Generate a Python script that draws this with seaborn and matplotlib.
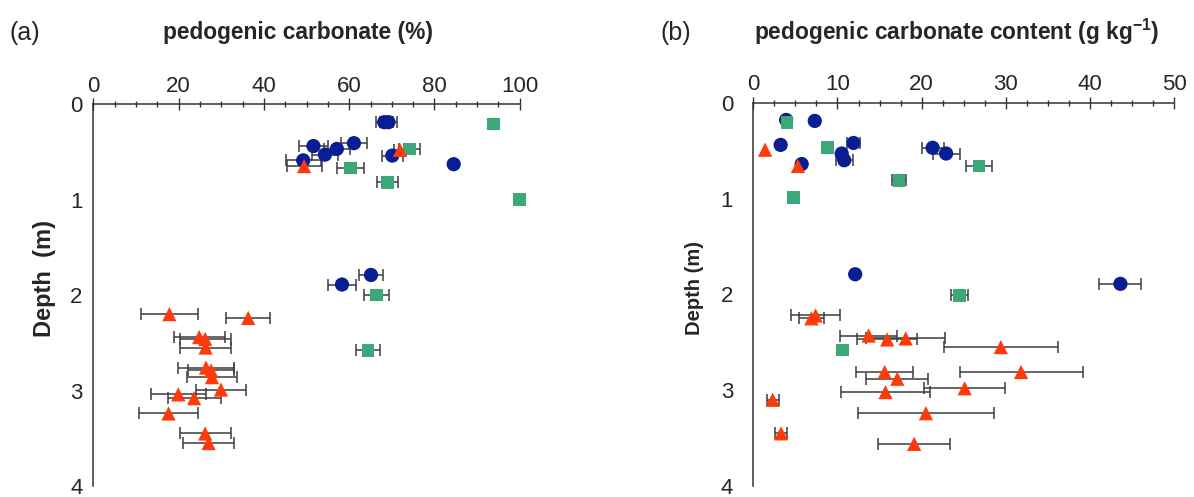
import numpy as np
import pandas as pd
import matplotlib
matplotlib.use("Agg")
import matplotlib.pyplot as plt
from matplotlib.ticker import MultipleLocator
import seaborn as sns

# ---------------- Panel (a): pedogenic carbonate (%) ----------------
a_blue_x = [68.2, 69.2, 51.6, 54.3, 57.1, 61.1, 49.2, 70.1, 84.5, 65.1, 58.3]
a_blue_depth = [0.19, 0.19, 0.44, 0.53, 0.47, 0.41, 0.59, 0.54, 0.63, 1.79, 1.89]
a_blue_err = [2.0, 2.0, 3.4, 3.0, 3.0, 3.1, 4.1, 2.5, 0.0, 2.8, 3.4]

a_green_x = [93.8, 74.1, 60.3, 69.0, 100.0, 66.4, 64.4]
a_green_depth = [0.21, 0.47, 0.67, 0.82, 1.00, 2.00, 2.58]
a_green_err = [0.0, 2.5, 3.1, 2.4, 0.0, 2.9, 2.8]

a_red_x = [71.9, 49.4, 17.8, 36.3, 24.8, 26.2, 26.3, 26.4, 27.6, 27.8, 29.9,
           19.9, 23.6, 17.6, 26.2, 27.0]
a_red_depth = [0.48, 0.65, 2.20, 2.24, 2.44, 2.46, 2.55, 2.76, 2.79, 2.86, 2.99,
               3.04, 3.08, 3.24, 3.45, 3.55]
a_red_err = [1.5, 4.1, 6.7, 5.2, 6.0, 6.0, 6.0, 6.5, 5.4, 5.9, 5.9,
             6.5, 6.2, 6.9, 6.0, 6.0]

# ---------------- Panel (b): pedogenic carbonate content (g/kg) ----------------
b_blue_x = [3.9, 7.3, 3.25, 11.9, 10.5, 10.8, 5.75, 21.3, 22.9, 12.1, 43.6]
b_blue_depth = [0.18, 0.19, 0.44, 0.42, 0.53, 0.60, 0.64, 0.47, 0.53, 1.79, 1.89]
b_blue_err = [0.0, 0.0, 0.0, 0.8, 0.0, 1.0, 0.3, 1.3, 1.6, 0.3, 2.5]

b_green_x = [4.0, 8.8, 26.8, 17.3, 4.75, 24.5, 10.6]
b_green_depth = [0.21, 0.47, 0.66, 0.81, 0.99, 2.01, 2.58]
b_green_err = [0.0, 0.5, 1.5, 0.8, 0.0, 1.0, 0.0]

b_red_x = [1.4, 5.3, 6.9, 7.4, 13.7, 15.9, 18.1, 29.4, 31.8, 15.6, 17.1,
           25.1, 15.7, 2.3, 20.5, 3.3, 19.1]
b_red_depth = [0.49, 0.66, 2.25, 2.22, 2.43, 2.47, 2.46, 2.55, 2.81, 2.81, 2.88,
               2.98, 3.02, 3.10, 3.24, 3.45, 3.56]
b_red_err = [0.0, 0.0, 1.5, 2.9, 3.4, 3.6, 4.7, 6.8, 7.3, 3.4, 3.7,
             4.85, 5.3, 0.7, 8.1, 0.7, 4.25]

BLUE = "#0a1e94"
GREEN = "#3ca878"
RED = "#ff3a0a"
ECOL = "#3c3c3c"

sns.set_style("white")
plt.rcParams["font.family"] = ["Liberation Sans", "DejaVu Sans"]
plt.rcParams["mathtext.fontset"] = "custom"
plt.rcParams["mathtext.rm"] = "Liberation Sans"
plt.rcParams["mathtext.bf"] = "Liberation Sans:bold"

fig = plt.figure(figsize=(11.94, 4.97), dpi=100)
ax1 = fig.add_axes([0.0783, 0.0221, 0.357, 0.7686])
ax2 = fig.add_axes([0.6309, 0.0221, 0.3526, 0.7712])


def build(bx, bd, gx, gd, rx, rd):
    return pd.DataFrame({
        "x": list(bx) + list(gx) + list(rx),
        "depth": list(bd) + list(gd) + list(rd),
        "group": ["blue"] * len(bx) + ["green"] * len(gx) + ["red"] * len(rx),
    })


def draw(ax, bx, bd, be, gx, gd, ge, rx, rd, re_):
    for xs, ds, es in [(bx, bd, be), (gx, gd, ge), (rx, rd, re_)]:
        xs = np.asarray(xs); ds = np.asarray(ds); es = np.asarray(es)
        m = es > 0
        ax.errorbar(xs[m], ds[m], xerr=es[m], fmt="none", ecolor=ECOL,
                    elinewidth=1.1, capsize=4.5, capthick=1.1, zorder=1)
    df = build(bx, bd, gx, gd, rx, rd)
    sns.scatterplot(data=df, x="x", y="depth", hue="group", style="group",
                    size="group",
                    palette={"blue": BLUE, "green": GREEN, "red": RED},
                    markers={"blue": "o", "green": "s", "red": "^"},
                    sizes={"blue": 105, "green": 85, "red": 105},
                    linewidth=0, legend=False, ax=ax, zorder=3, clip_on=False)


def style(ax, xmax, xmajor, xminor, ypad):
    ax.set_xlim(0, xmax)
    ax.set_ylim(4, 0)
    ax.xaxis.tick_top()
    ax.xaxis.set_label_position("top")
    for s in ["right", "bottom"]:
        ax.spines[s].set_visible(False)
    for s in ["top", "left"]:
        ax.spines[s].set_linewidth(1.1)
        ax.spines[s].set_color("#333333")
    ax.xaxis.set_major_locator(MultipleLocator(xmajor))
    ax.xaxis.set_minor_locator(MultipleLocator(xminor))
    ax.yaxis.set_major_locator(MultipleLocator(1))
    ax.yaxis.set_minor_locator(MultipleLocator(0.25))
    ax.tick_params(axis="x", which="major", direction="inout", length=8.5,
                   width=1.0, color="#333333", labelsize=16, pad=1)
    ax.tick_params(axis="x", which="minor", direction="inout", length=5,
                   width=1.0, color="#333333")
    ax.tick_params(axis="y", which="major", direction="out", length=4.5,
                   width=1.0, color="#333333", labelsize=16, pad=ypad)
    ax.tick_params(axis="y", which="minor", direction="out", length=2.5,
                   width=1.0, color="#333333")


draw(ax1, a_blue_x, a_blue_depth, a_blue_err, a_green_x, a_green_depth, a_green_err,
     a_red_x, a_red_depth, a_red_err)
draw(ax2, b_blue_x, b_blue_depth, b_blue_err, b_green_x, b_green_depth, b_green_err,
     b_red_x, b_red_depth, b_red_err)

style(ax1, 100, 20, 5, 3.5)
style(ax2, 50, 10, 2.5, 10)

ax1.set_xlabel("pedogenic carbonate (%)", fontsize=16.4, fontweight="bold")
ax1.xaxis.set_label_coords(0.48, 1.188)
ax1.xaxis.label.set_va("center")
ax1.set_ylabel("Depth  (m)", fontsize=17, fontweight="bold")
ax1.yaxis.set_label_coords(-0.114, 0.542)
ax1.yaxis.label.set_va("center")

ax2.set_xlabel(r"pedogenic carbonate content (g kg$^{\mathbf{-1}}$)",
               fontsize=16.4, fontweight="bold")
ax2.xaxis.set_label_coords(0.484, 1.185)
ax2.xaxis.label.set_va("center")
ax2.set_ylabel("Depth (m)", fontsize=14.5, fontweight="bold")
ax2.yaxis.set_label_coords(-0.1385, 0.5155)
ax2.yaxis.label.set_va("center")

fig.text(25 / 1194, 1 - 33 / 497, "(a)", fontsize=18, ha="center", va="center")
fig.text(676 / 1194, 1 - 33 / 497, "(b)", fontsize=18, ha="center", va="center")

fig.savefig("out.png", dpi=100)
